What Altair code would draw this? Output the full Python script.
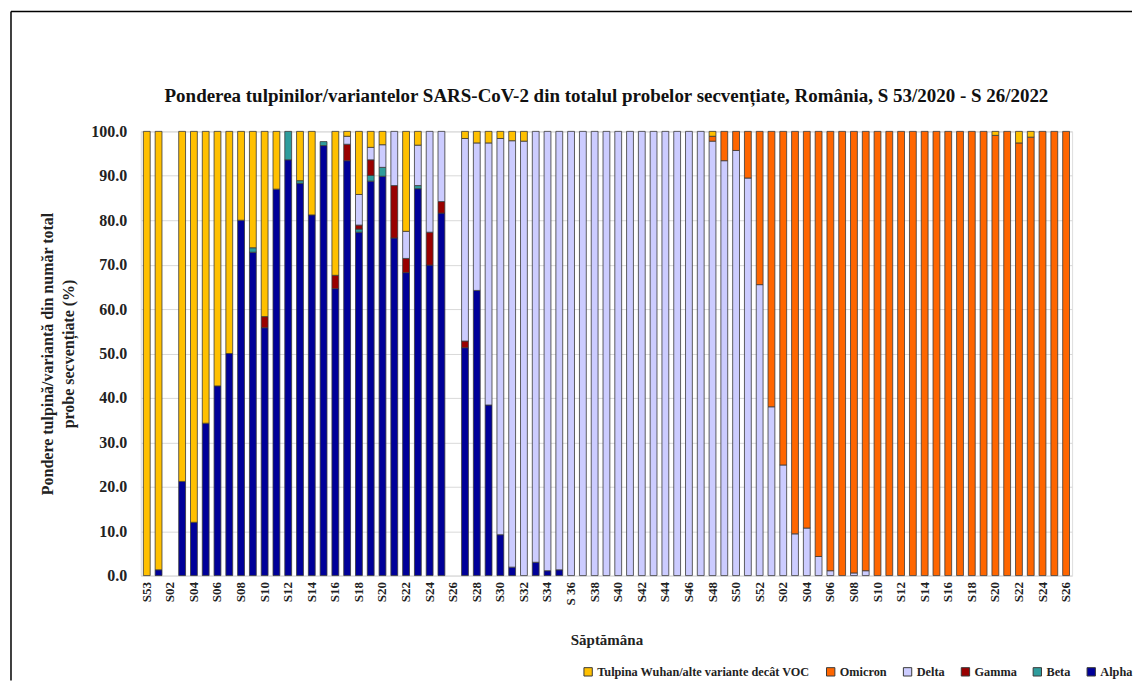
import altair as alt
import pandas as pd

# ---- categories -------------------------------------------------------
week_labels = (["S53"]
               + ["S%02d" % w for w in range(1, 53)]
               + ["S%02d" % w for w in range(1, 27)])
week_labels[36] = "S 36"
years = [2020] + [2021] * 52 + [2022] * 26

variants = ["Tulpina Wuhan/alte variante decât VOC", "Omicron", "Delta",
            "Gamma", "Beta", "Alpha"]
colors = ["#FFC000", "#FF6600", "#CCCCFF", "#990000", "#2E9C9C", "#000099"]

title_text = ("Ponderea tulpinilor/variantelor SARS-CoV-2 din totalul probelor "
              "secvențiate, România, S 53/2020 - S 26/2022")

# ---- series values (% of sequenced samples) -----------------------------
alpha = [0, 1.3, 0, 21.2, 12.0, 34.3, 42.7, 50.0, 80.0, 72.8,
         55.8, 87.0, 93.6, 88.3, 81.2, 96.8, 64.6, 93.4, 77.3, 88.8,
         89.9, 76.0, 68.2, 87.1, 69.9, 81.6, 0, 51.3, 64.2, 38.4,
         9.2, 1.9, 0, 3.0, 1.1, 1.3] + [0] * 43

beta = [0, 0, 0, 0, 0, 0, 0, 0, 0, 1.0,
        0, 0, 6.4, 0.6, 0, 0.9, 0, 0, 0.7, 1.3,
        2.0, 0, 0, 0.7, 0, 0] + [0] * 53

gamma = [0] * 10 + [2.5, 0, 0, 0, 0, 0, 3.0, 3.7, 0.9, 3.5,
                    0, 11.8, 3.2, 0, 7.4, 2.6, 0, 1.5] + [0] * 51

delta = ([0] * 17
         + [1.8, 6.9, 2.8, 5.1, 12.2, 6.1, 9.1, 22.7, 15.8, 0,
            45.6, 33.2, 59.0, 89.2, 96.0, 97.8, 97.0, 98.9, 98.7]
         + [100] * 12
         + [97.8, 93.4, 95.7, 89.5, 65.5, 38.0, 24.9, 9.4, 10.7, 4.3,
            1.1, 0, 0.6, 1.1]
         + [0] * 17)

omicron = ([0] * 48
           + [1.1, 6.6, 4.3, 10.5, 34.5, 62.0, 75.1, 90.6, 89.3, 95.7,
              98.9, 100, 99.4, 98.9]
           + [100] * 10
           + [99.1, 100, 97.4, 98.7, 100, 100, 100])

wuhan = ([100, 98.7, 0, 78.8, 88.0, 65.7, 57.3, 50.0, 20.0, 26.2,
          41.7, 13.0, 0, 11.1, 18.8, 0, 32.4, 1.1, 14.2, 3.6,
          3.0, 0, 22.5, 3.1, 0, 0, 0, 1.6, 2.6, 2.6,
          1.6, 2.1, 2.2]
         + [0] * 15 + [1.1] + [0] * 23
         + [0.9, 0, 2.6, 1.3, 0, 0, 0])

series = {"Alpha": alpha, "Beta": beta, "Gamma": gamma, "Delta": delta,
          "Omicron": omicron, "Tulpina Wuhan/alte variante decât VOC": wuhan}
stack_order = ["Alpha", "Beta", "Gamma", "Delta", "Omicron",
               "Tulpina Wuhan/alte variante decât VOC"]

keys = ["%s|%d|%d" % (lab, yr, i) for i, (lab, yr) in enumerate(zip(week_labels, years))]

rows = []
for ord_i, name in enumerate(stack_order):
    for i, v in enumerate(series[name]):
        if v > 0:
            rows.append({"key": keys[i], "variant": name, "value": v, "ord": ord_i})
df = pd.DataFrame(rows)

FONT = "Liberation Serif"
W, H = 933, 445

bars = alt.Chart(df).mark_bar(stroke="#3A3A3A", strokeWidth=0.8).encode(
    x=alt.X("key:N", sort=keys,
            scale=alt.Scale(domain=keys, paddingInner=0.42, paddingOuter=0.22),
            axis=alt.Axis(values=keys[::2],
                          labelExpr="split(datum.value, '|')[0]",
                          labelAngle=-90, labelFont=FONT, labelFontWeight="bold",
                          labelFontSize=13, labelColor="#222222", labelPadding=6,
                          ticks=False, domain=False, grid=False,
                          title="Săptămâna", titleFont=FONT, titleFontSize=15,
                          titleFontWeight="bold", titleColor="#222222",
                          titlePadding=28)),
    y=alt.Y("value:Q", stack="zero",
            scale=alt.Scale(domain=[0, 100], nice=False),
            axis=alt.Axis(values=list(range(0, 101, 10)), format=".1f",
                          labelFont=FONT, labelFontWeight="bold", labelFontSize=16,
                          labelColor="#222222", labelPadding=14,
                          ticks=False, domain=False, grid=True,
                          gridColor="#D9D9D9", gridWidth=1,
                          title=["Pondere tulpină/variantă din număr total",
                                 "probe secvențiate (%)"],
                          titleFont=FONT, titleFontSize=16, titleFontWeight="bold",
                          titleColor="#222222", titlePadding=14, titleLineHeight=21)),
    color=alt.Color("variant:N",
                    scale=alt.Scale(domain=variants, range=colors),
                    legend=alt.Legend(title=None, orient="none", direction="horizontal",
                                      legendX=442, legendY=535,
                                      symbolType="square", symbolSize=70,
                                      symbolStrokeColor="#3A3A3A", symbolStrokeWidth=1,
                                      labelFont=FONT, labelFontWeight="bold",
                                      labelFontSize=12.3, labelColor="#222222",
                                      labelLimit=400, columnPadding=13,
                                      symbolOffset=0, labelOffset=3)),
    order=alt.Order("ord:Q", sort="ascending"),
)

one = pd.DataFrame({"f": [0]})
title_mark = alt.Chart(one).mark_text(
    font=FONT, fontSize=19, fontWeight="bold", color="#111111",
    align="center", baseline="middle").encode(
    x=alt.value(W / 2), y=alt.value(-35), text=alt.value(title_text))

frame_top = alt.Chart(one).mark_rule(color="#000000", strokeWidth=1.5).encode(
    x=alt.value(-130), x2=alt.value(993), y=alt.value(-120))
frame_left = alt.Chart(one).mark_rule(color="#000000", strokeWidth=1.5).encode(
    x=alt.value(-130), y=alt.value(-120), y2=alt.value(550))

chart = alt.layer(bars, title_mark, frame_top, frame_left).properties(
    width=W, height=H,
    padding={"left": 2, "top": 2, "right": 0, "bottom": 0},
).configure_view(stroke=None).configure(background="white")

chart.save("out.html", embed_options={"renderer": "svg", "actions": False})
